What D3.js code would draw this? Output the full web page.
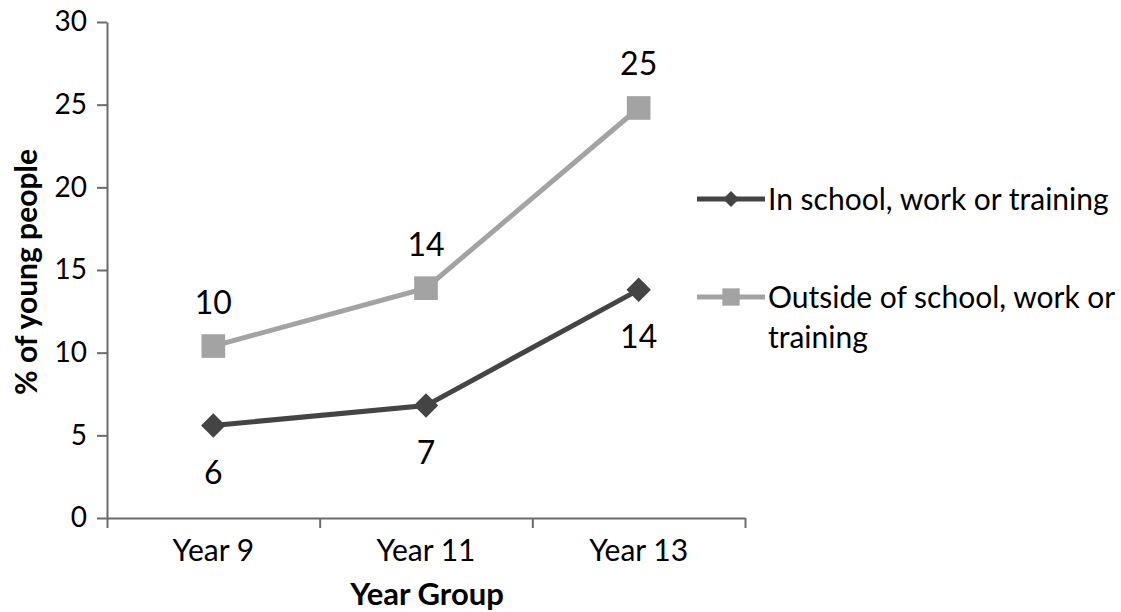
<!DOCTYPE html>
<html>
<head>
<meta charset="utf-8">
<script src="https://cdn.jsdelivr.net/npm/d3@7/dist/d3.min.js"></script>
<style>
  html, body { margin: 0; padding: 0; background: #ffffff; }
  svg { display: block; }
  text { font-family: Lato, "Noto Sans", sans-serif; fill: #000; }
</style>
</head>
<body>
<svg id="chart" width="1121" height="612"></svg>
<script>
// Year groups along the x axis
const categories = ["Year 9", "Year 11", "Year 13"];

// Share of young people (%) for each group
const inSchoolValues = [5.6, 6.8, 13.8];
const outsideValues = [10.4, 13.9, 24.8];

const seriesNames = ["In school, work or training", "Outside of school, work or training"];
const yTicks = [0, 5, 10, 15, 20, 25, 30];

const svg = d3.select("#chart");
const plot = { left: 107, right: 745, top: 22, bottom: 518 };

const x = d3.scaleBand().domain(categories).range([plot.left, plot.right]);
const xEdges = d3.scaleLinear().domain([0, categories.length]).range([plot.left, plot.right]);
const y = d3.scaleLinear().domain([0, 30]).range([plot.bottom, plot.top]);

const axisColor = "#6b6b6b";
const fmt = d3.format(".0f");
const cx = i => x(categories[i]) + x.bandwidth() / 2;

// y axis
const gy = svg.append("g")
  .attr("transform", `translate(${plot.left},0)`)
  .call(d3.axisLeft(y).tickValues(yTicks).tickSize(10).tickSizeOuter(0).tickPadding(10));
gy.select(".domain").attr("stroke", axisColor).attr("stroke-width", 2);
gy.selectAll(".tick line").attr("stroke", axisColor).attr("stroke-width", 2);
gy.selectAll(".tick text").style("font-size", "28px").attr("fill", "#000");

// x axis line with ticks at category boundaries
const gx = svg.append("g")
  .attr("transform", `translate(0,${plot.bottom})`)
  .call(d3.axisBottom(xEdges).tickValues(d3.range(categories.length + 1)).tickSize(10).tickSizeOuter(0).tickFormat(""));
gx.select(".domain").attr("stroke", axisColor).attr("stroke-width", 2);
gx.selectAll(".tick line").attr("stroke", axisColor).attr("stroke-width", 2);

// category labels
const gxl = svg.append("g")
  .attr("transform", `translate(0,${plot.bottom})`)
  .call(d3.axisBottom(x).tickSize(0).tickPadding(0));
gxl.select(".domain").remove();
gxl.selectAll(".tick text")
  .attr("y", 43).attr("dy", null)
  .style("font-size", "30px").attr("fill", "#000");

// axis titles
svg.append("text")
  .attr("transform", "translate(37,272) rotate(-90)")
  .attr("text-anchor", "middle")
  .style("font-size", "30px").style("font-weight", "bold")
  .text("% of young people");

svg.append("text")
  .attr("x", 427)
  .attr("y", 605)
  .attr("text-anchor", "middle")
  .style("font-size", "31px").style("font-weight", "bold")
  .text("Year Group");

const series = [
  { name: seriesNames[0], values: inSchoolValues, color: "#444444", marker: "diamond", labelDy: 47 },
  { name: seriesNames[1], values: outsideValues, color: "#a3a3a3", marker: "square", labelDy: -44 }
];

const line = d3.line()
  .x((d, i) => cx(i))
  .y(d => y(d));

const markerPath = (kind, big) => d3.symbol().type(d3.symbolSquare)
  .size(kind === "diamond" ? (big ? 300 : 130) : (big ? 560 : 300))();
const markerRot = kind => kind === "diamond" ? " rotate(45)" : "";

series.forEach(s => {
  const g = svg.append("g");
  g.append("path")
    .datum(s.values)
    .attr("fill", "none")
    .attr("stroke", s.color)
    .attr("stroke-width", 5)
    .attr("d", line);

  g.selectAll("path.marker")
    .data(s.values)
    .join("path")
    .attr("class", "marker")
    .attr("d", markerPath(s.marker, true))
    .attr("transform", (d, i) => `translate(${cx(i)},${y(d)})` + markerRot(s.marker))
    .attr("fill", s.color);

  g.selectAll("text.value")
    .data(s.values)
    .join("text")
    .attr("class", "value")
    .attr("x", (d, i) => cx(i))
    .attr("y", d => y(d) + s.labelDy)
    .attr("dy", "0.36em")
    .attr("text-anchor", "middle")
    .style("font-size", "32px")
    .text(d => fmt(d));
});

// legend
const legend = svg.append("g").attr("transform", "translate(697,0)");
const legendRows = [
  { s: series[0], y: 199, lines: ["In school, work or training"] },
  { s: series[1], y: 297, lines: ["Outside of school, work or", "training"] }
];
legendRows.forEach(r => {
  legend.append("line")
    .attr("x1", 0).attr("x2", 68)
    .attr("y1", r.y).attr("y2", r.y)
    .attr("stroke", r.s.color).attr("stroke-width", 5);
  legend.append("path")
    .attr("d", markerPath(r.s.marker, false))
    .attr("transform", `translate(34,${r.y})` + markerRot(r.s.marker))
    .attr("fill", r.s.color);
  const t = legend.append("text")
    .attr("y", r.y)
    .style("font-size", "30px");
  r.lines.forEach((ln, i) => {
    t.append("tspan")
      .attr("x", 71)
      .attr("y", r.y + i * 40)
      .attr("dy", "0.36em")
      .text(ln);
  });
});
</script>
</body>
</html>
